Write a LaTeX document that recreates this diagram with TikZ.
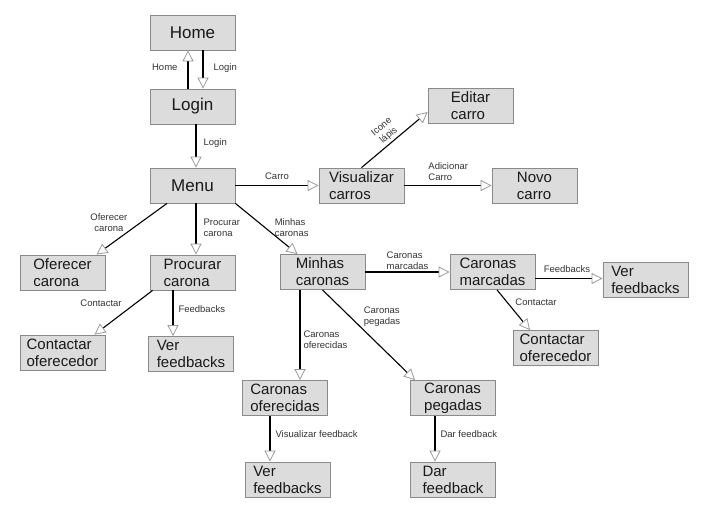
\documentclass[tikz,border=0pt]{standalone}
\usepackage{fontspec}
\setmainfont{Liberation Sans}
\usetikzlibrary{
  arrows.meta,
  positioning,  % Function "of" and shifted "left=", "right="
  calc,
}
\definecolor{boxfill}{HTML}{DCDCDC}
\definecolor{boxline}{HTML}{8A8A8A}
\definecolor{tipline}{HTML}{9A9A9A}
\def\myboxw{85pt}
\def\myboxh{35pt}
\tikzset{
  my box/.style={
    draw=boxline,
    fill=boxfill,
    line width=0.8pt,
    minimum width=\myboxw,
    minimum height=\myboxh,
    inner sep=0pt,
    align=left,
    text=black!90,
    font=\fontsize{15}{17}\selectfont
  },
  my big box/.style={
    my box,
    font=\fontsize{17}{17}\selectfont
  },
  my edge/.style={
    draw=black,
    line width=1.1pt,
    -{Triangle[open,length=11pt,width=11pt,color=tipline,line width=0.8pt]}
  },
  my label/.style={
    font=\fontsize{9.5}{11}\selectfont,
    text=black!80,
    align=left,
    inner sep=0pt
  }
}
\begin{document}
\begin{tikzpicture}[x=1pt,y=-1pt]
\useasboundingbox (0,0) rectangle (720,528);
% boxes
\node[my big box] (home)     at (192.5,32.5)  {Home};
\node[my big box] (login)    at (192.5,106.5) {Login};
\node[my big box] (menu)     at (192.5,185.5) {Menu};
\node[my box] (vis)          at (361.5,185.5) {Visualizar\\carros};
\node[my box] (editar)       at (470.5,105.5) {Editar\\carro};
\node[my box] (novo)         at (534.5,185.5) {Novo\\carro};
\node[my box] (oferecer)     at (62.5,272.5)  {Oferecer\\carona};
\node[my box] (procurar)     at (192.5,272.5) {Procurar\\carona};
\node[my box] (minhas)       at (322.5,272)   {Minhas\\caronas};
\node[my box] (marcadas)     at (492.5,272)   {Caronas\\marcadas};
\node[my box] (verfbm)       at (645.5,279.5) {Ver\\feedbacks};
\node[my box] (contatom)     at (555.5,348)   {Contactar\\oferecedor};
\node[my box] (contatop)     at (62.5,352.5)  {Contactar\\oferecedor};
\node[my box] (verfbp)       at (191,354)     {Ver\\feedbacks};
\node[my box] (oferecidas)   at (285,398)     {Caronas\\oferecidas};
\node[my box] (pegadas)      at (453,398)     {Caronas\\pegadas};
\node[my box] (verfbo)       at (287.5,479.5) {Ver\\feedbacks};
\node[my box] (dar)          at (453,479.5)   {Dar\\feedback};
% connectors
\draw[my edge] ([xshift=-4.5pt]login.north) -- node[my label,left=10pt,pos=0.55]{Home} ([xshift=-4.5pt]home.south);
\draw[my edge] ([xshift=10.5pt]home.south) -- node[my label,right=10pt,pos=0.45]{Login} ([xshift=10.5pt]login.north);
\draw[my edge] ([xshift=3.5pt]login.south) -- node[my label,right=7pt,pos=0.43]{Login} ([xshift=3.5pt]menu.north);
\draw[my edge] (menu.east) -- node[my label,above=5pt]{Carro} (vis.west);
\draw[my edge] (vis.north) -- node[my label,sloped,above=2pt,pos=0.48,align=center]{Icone\\lápis} ([yshift=-6.5pt]editar.west);
\draw[my edge] (vis.east) -- node[my label,anchor=south west,pos=0.27,yshift=4pt]{Adicionar\\Carro} (novo.west);
\draw[my edge] ([xshift=-25.5pt]menu.south) -- node[my label,left=13pt,pos=0.37,align=center]{Oferecer\\carona} ([xshift=34pt]oferecer.north);
\draw[my edge] ([xshift=3.5pt]menu.south) -- node[my label,right=7pt,pos=0.47]{Procurar\\carona} ([xshift=3.5pt]procurar.north);
\draw[my edge] (menu.south east) -- node[my label,right=9pt,pos=0.48]{Minhas\\caronas} ([xshift=-25pt]minhas.north);
\draw[my edge] ([xshift=3pt]procurar.south west) -- node[my label,left=13pt,pos=0.3]{Contactar} ([xshift=32pt]contatop.north);
\draw[my edge] ([xshift=-19.5pt]procurar.south) -- node[my label,right=5pt,pos=0.41]{Feedbacks} ([xshift=-18pt]verfbp.north);
\draw[my edge] (minhas.east) -- node[my label,above=2pt]{Caronas\\marcadas} (marcadas.west);
\draw[my edge] ([xshift=-22.5pt]minhas.south) -- node[my label,right=3pt,pos=0.55]{Caronas\\oferecidas} ([xshift=15pt]oferecidas.north);
\draw[my edge] (minhas.south) -- node[my label,right=13pt,pos=0.3]{Caronas\\pegadas} ([xshift=-38pt]pegadas.north);
\draw[my edge] ([yshift=-6.5pt]marcadas.east) -- node[my label,above=5pt,pos=0.47]{Feedbacks} ([yshift=1pt]verfbm.west);
\draw[my edge] ([xshift=4.5pt]marcadas.south) -- node[my label,right=8pt,pos=0.3]{Contactar} ([xshift=-25.5pt]contatom.north);
\draw[my edge] ([xshift=-15pt]oferecidas.south) -- node[my label,right=5pt,pos=0.4]{Visualizar feedback} ([xshift=-17.5pt]verfbo.north);
\draw[my edge] ([xshift=-18pt]pegadas.south) -- node[my label,right=5pt,pos=0.4]{Dar feedback} ([xshift=-18pt]dar.north);
\end{tikzpicture}
\end{document}
